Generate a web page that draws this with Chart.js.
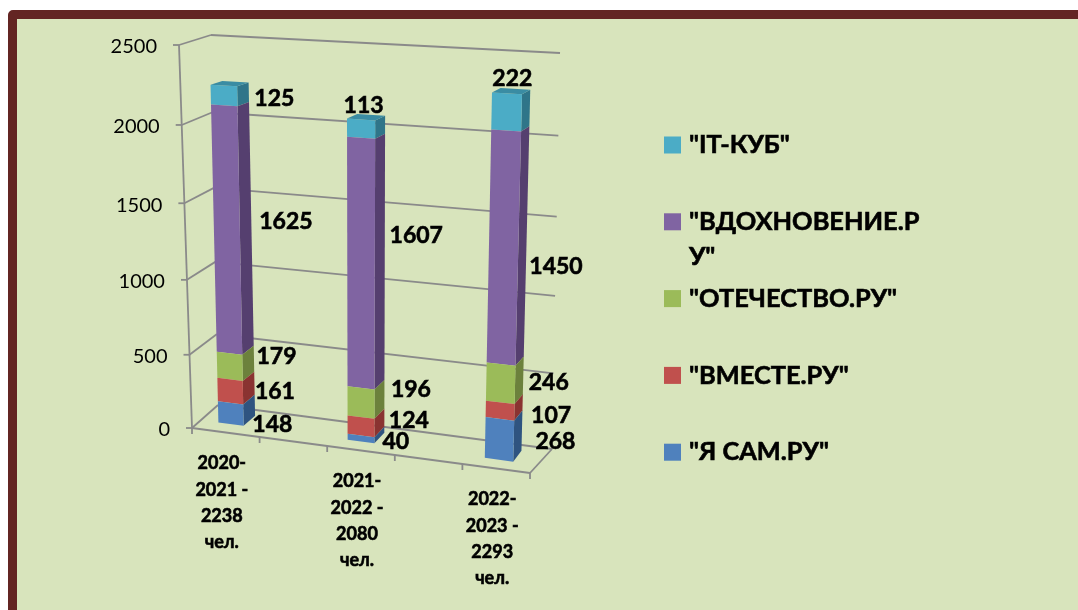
<!DOCTYPE html>
<html>
<head>
<meta charset="utf-8">
<title>Chart</title>
<script src="https://cdn.jsdelivr.net/npm/chart.js@4"></script>
<style>
    html, body { margin: 0; padding: 0; width: 1078px; height: 610px; overflow: hidden; background: #fff; }
    #frame {
        position: absolute; left: 8px; top: 10px; width: 1200px; height: 800px;
        background: #D8E4BC; border: 9px solid #632523; border-top-left-radius: 5px;
    }
    #sizeTable { position: absolute; left: 0; top: 0; display: block; }
</style>
</head>
<body>
<div id="frame"></div>
<canvas id="sizeTable" width="1078" height="610"></canvas>
<script>
// the empty categories are real, the original sheet has blank rows between the years
var categories = [
    ["2020-", "2021 -", "2238", "чел."],
    [],
    ["2021-", "2022 -", "2080", "чел."],
    [],
    ["2022-", "2023 -", "2293", "чел."]
];
var seriesNames = ['"Я САМ.РУ"', '"ВМЕСТЕ.РУ"', '"ОТЕЧЕСТВО.РУ"', '"ВДОХНОВЕНИЕ.РУ"', '"IT-КУБ"'];
var yaSam = [148, null, 40, null, 268];
var vmeste = [161, null, 124, null, 107];
var otechestvo = [179, null, 196, null, 246];
var vdohnovenie = [1625, null, 1607, null, 1450];
var itKub = [125, null, 113, null, 222];
var seriesValues = [yaSam, vmeste, otechestvo, vdohnovenie, itKub];
var yTickValues = [0, 500, 1000, 1500, 2000, 2500];

// legend goes top to bottom, long name breaks like in the original
var legendLines = [['"IT-КУБ"'], ['"ВДОХНОВЕНИЕ.Р', 'У"'], ['"ОТЕЧЕСТВО.РУ"'], ['"ВМЕСТЕ.РУ"'], ['"Я САМ.РУ"']];
var legendColors = ["#4BACC6", "#8064A2", "#9BBB59", "#C0504D", "#4F81BD"];

var faceColors = ["#4F81BD", "#C0504D", "#9BBB59", "#8064A2", "#4BACC6"];
var sideColors = ["#2F5480", "#8A3331", "#6C813C", "#553F6F", "#2F7589"];
var topColor = "#3A8CA3";
var lineColor = "#8A8A8A";
var fontName = "Lato, 'Open Sans', sans-serif";

// screen corners of the fake 3D box: bl, br, tl, tr
var boxFront = [[192, 428], [530, 473], [179, 45], [190, 60]];
var boxBack = [[218, 405], [552, 449], [211, 35], [560, 53]];
var barFront = [[199.7, 420], [534.7, 464.5], [189.7, 42], [545.7, 60.5]];
var barBack = [[211.7, 410], [542.7, 453.5], [201.7, 39], [553.7, 56.5]];

// excel dragged these labels around by hand, offset from right side middle of a segment
var labelNudge = [
    [[17.5, 19], null, [11.5, 12], null, [33.5, 11]],
    [[20.5, 8], null, [24.5, 3], null, [28.5, 13]],
    [[22.5, -2], null, [26.5, -5], null, [25.5, 7]],
    [[34.5, -4], null, [31.5, -23], null, [29.5, 23]],
    [[25.5, 6], null, [-21.5, -19], null, [-17.5, -29]]
];

var plotArea = null;

function perspective(v){
    return v - 0.055 * v * (1 - v);
}

function projectQuad(q, u, v){
    var w = perspective(v);
    var bx = q[0][0] + (q[1][0] - q[0][0]) * u, by = q[0][1] + (q[1][1] - q[0][1]) * u;
    var tx = q[2][0] + (q[3][0] - q[2][0]) * u, ty = q[2][1] + (q[3][1] - q[2][1]) * u;
    return [bx + (tx - bx) * w, by + (ty - by) * w];
}

function flatU(x){
    return (x - plotArea.left) / (plotArea.right - plotArea.left);
}

// bars spread out a little towards the viewer on the right side
function barU(x){
    var u = flatU(x);
    return u - 0.0744 * u * (1 - u);
}

function flatV(y){
    return (plotArea.bottom - y) / (plotArea.bottom - plotArea.top);
}

function fillPoly(ctx, pts, color){
    ctx.beginPath();
    ctx.moveTo(pts[0][0], pts[0][1]);
    for(var i = 1; i < pts.length; i++){
        ctx.lineTo(pts[i][0], pts[i][1]);
    }
    ctx.closePath();
    ctx.fillStyle = color;
    ctx.fill();
}

function strokeLine(ctx, a, b){
    ctx.beginPath();
    ctx.moveTo(a[0], a[1]);
    ctx.lineTo(b[0], b[1]);
    ctx.stroke();
}

// lato bold is a bit thinner than the original font, so thicken it slightly
function heavyText(ctx, text, x, y){
    ctx.strokeStyle = "#000";
    ctx.lineWidth = 0.6;
    ctx.strokeText(text, x, y);
    ctx.fillText(text, x, y);
}

// bars stay normal chart.js bars, only the painting is bent into the 3D box
Chart.BarElement.prototype.draw = function(ctx){
    var p = this.getProps(["x", "y", "base", "width"], true);
    var ds = this.seriesIndex;
    var u0 = barU(p.x - p.width / 2), u1 = barU(p.x + p.width / 2);
    var v0 = flatV(p.base), v1 = flatV(p.y);

    fillPoly(ctx, [projectQuad(barFront, u1, v0), projectQuad(barBack, u1, v0),
                   projectQuad(barBack, u1, v1), projectQuad(barFront, u1, v1)], sideColors[ds]);
    fillPoly(ctx, [projectQuad(barFront, u0, v0), projectQuad(barFront, u1, v0),
                   projectQuad(barFront, u1, v1), projectQuad(barFront, u0, v1)], faceColors[ds]);
    if(ds === seriesValues.length - 1){
        fillPoly(ctx, [projectQuad(barFront, u0, v1), projectQuad(barFront, u1, v1),
                       projectQuad(barBack, u1, v1), projectQuad(barBack, u0, v1)], topColor);
    }
};

var boxPlugin = {
    id: "box3d",
    beforeDatasetsDraw: function(chart){
        var ctx = chart.ctx, yScale = chart.scales.y, xScale = chart.scales.x;
        plotArea = chart.chartArea;
        seriesValues.forEach(function(values, ds){
            chart.getDatasetMeta(ds).data.forEach(function(bar){
                bar.seriesIndex = ds;
            });
        });
        ctx.save();
        ctx.strokeStyle = lineColor;
        ctx.lineWidth = 1.8;

        // walls
        yScale.ticks.forEach(function(tick){
            var v = flatV(yScale.getPixelForValue(tick.value));
            var front = projectQuad(boxFront, 0, v);
            strokeLine(ctx, [front[0] - 6, front[1]], front);
            strokeLine(ctx, front, projectQuad(boxBack, 0, v));
            if(v > 0){
                strokeLine(ctx, projectQuad(boxBack, 0, v), projectQuad(boxBack, 1, v));
            }
            ctx.fillStyle = "#000";
            ctx.font = "20px " + fontName;
            ctx.textAlign = "right";
            ctx.textBaseline = "middle";
            ctx.fillText(String(tick.value), front[0] - 22, front[1] + 2);
        });
        strokeLine(ctx, projectQuad(boxFront, 0, 0), projectQuad(boxFront, 0, 1));

        // floor
        strokeLine(ctx, projectQuad(boxFront, 0, 0), projectQuad(boxFront, 1, 0));
        strokeLine(ctx, projectQuad(boxFront, 1, 0), projectQuad(boxBack, 1, 0));
        strokeLine(ctx, projectQuad(boxBack, 0, 0), projectQuad(boxBack, 1, 0));
        for(var i = 0; i <= categories.length; i++){
            var t = projectQuad(boxFront, i / categories.length, 0);
            ctx.strokeStyle = lineColor;
            strokeLine(ctx, t, [t[0], t[1] + 6]);
        }

        // category labels, 4 lines each
        ctx.fillStyle = "#000";
        ctx.font = "bold 18px " + fontName;
        ctx.textAlign = "center";
        ctx.textBaseline = "middle";
        categories.forEach(function(lines, idx){
            var f = projectQuad(boxFront, flatU(xScale.getPixelForValue(idx)), 0);
            lines.forEach(function(line, n){
                heavyText(ctx, line, f[0] - 4, f[1] + 31 + n * 26.3);
            });
        });
        ctx.restore();
    },
    afterDatasetsDraw: function(chart){
        var ctx = chart.ctx;
        ctx.save();
        ctx.fillStyle = "#000";
        ctx.font = "bold 23px " + fontName;
        ctx.textAlign = "center";
        ctx.textBaseline = "middle";
        seriesValues.forEach(function(values, ds){
            var bars = chart.getDatasetMeta(ds).data;
            values.forEach(function(val, idx){
                if(val === null){
                    return;
                }
                var bar = bars[idx];
                var mid = projectQuad(barBack, barU(bar.x + bar.width / 2), flatV((bar.y + bar.base) / 2));
                var nudge = labelNudge[ds][idx];
                heavyText(ctx, String(val), mid[0] + nudge[0], mid[1] + nudge[1]);
            });
        });

        // legend, hand made because of the broken line
        ctx.textAlign = "left";
        ctx.font = "bold 25.4px " + fontName;
        legendLines.forEach(function(lines, n){
            var y = 145 + n * 76.8;
            ctx.fillStyle = legendColors[n];
            ctx.fillRect(664, y - 8.5, 17, 17);
            ctx.fillStyle = "#000";
            lines.forEach(function(line, k){
                heavyText(ctx, line, 689, y + k * 35);
            });
        });
        ctx.restore();
    }
};

var datasets = [];
for(var i = 0; i < seriesNames.length; i++){
    datasets.push({
        label: seriesNames[i],
        data: seriesValues[i],
        backgroundColor: faceColors[i],
        barPercentage: 0.4,
        categoryPercentage: 1,
        clip: false
    });
}

var ctx = document.getElementById("sizeTable").getContext("2d");
var myBarChart = new Chart(ctx, {
    type: "bar",
    data: {
        labels: categories,
        datasets: datasets
    },
    options: {
        responsive: false,
        animation: false,
        layout: { padding: { left: 192, right: 548, top: 45, bottom: 182 } },
        plugins: {
            legend: { display: false },
            tooltip: { enabled: false }
        },
        scales: {
            x: { stacked: true, display: false },
            y: {
                stacked: true,
                display: false,
                min: yTickValues[0],
                max: yTickValues[yTickValues.length - 1],
                ticks: { stepSize: yTickValues[1] - yTickValues[0] }
            }
        }
    },
    plugins: [boxPlugin]
});
</script>
</body>
</html>
